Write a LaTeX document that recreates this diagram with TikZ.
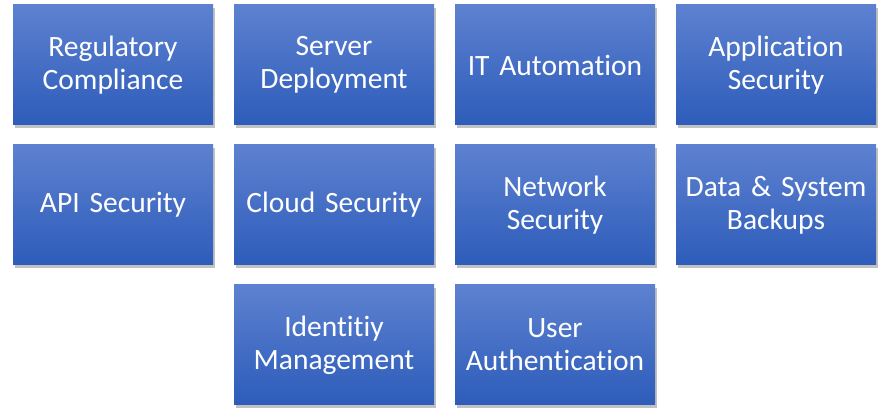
\documentclass[tikz,border=0pt]{standalone}
\usepackage{fontspec}
\setmainfont{Carlito}[Ligatures=NoCommon]
\usetikzlibrary{shadows}
\definecolor{boxtop}{RGB}{93,129,208}
\definecolor{boxbot}{RGB}{45,92,186}
\tikzset{
	areabox/.style={rectangle, minimum width=200pt, minimum height=120pt,
		text width=196pt, align=center, inner sep=0pt,
		top color=boxtop, bottom color=boxbot, text=white,
		font=\fontsize{29.5}{33}\selectfont,
		drop shadow={shadow xshift=2pt, shadow yshift=-3pt, opacity=0.35, fill=black!70}}
}
\begin{document}
\begin{tikzpicture}[x=1pt,y=1pt]
	\useasboundingbox (0,0) rectangle (892,-419);
	%top row
	\node[areabox] (regcomp) at (113,-65)  {Regulatory\\Compliance};
	\node[areabox] (servdep) at (334,-65)  {Server\\Deployment};
	\node[areabox] (itauto)  at (555,-65)  {IT Automation};
	\node[areabox] (appsec)  at (776,-65)  {Application\\Security};
	%middle row
	\node[areabox] (apisec)  at (113,-205) {API Security};
	\node[areabox] (cloudsec) at (334,-205) {Cloud Security};
	\node[areabox] (netsec)  at (555,-205) {Network\\Security};
	\node[areabox] (backups) at (776,-205) {Data \& System\\Backups};
	%bottom row
	\node[areabox] (idmgmt)  at (334,-345) {Identitiy\\Management};
	\node[areabox] (userauth) at (555,-345) {User\\Authentication};
\end{tikzpicture}
\end{document}
